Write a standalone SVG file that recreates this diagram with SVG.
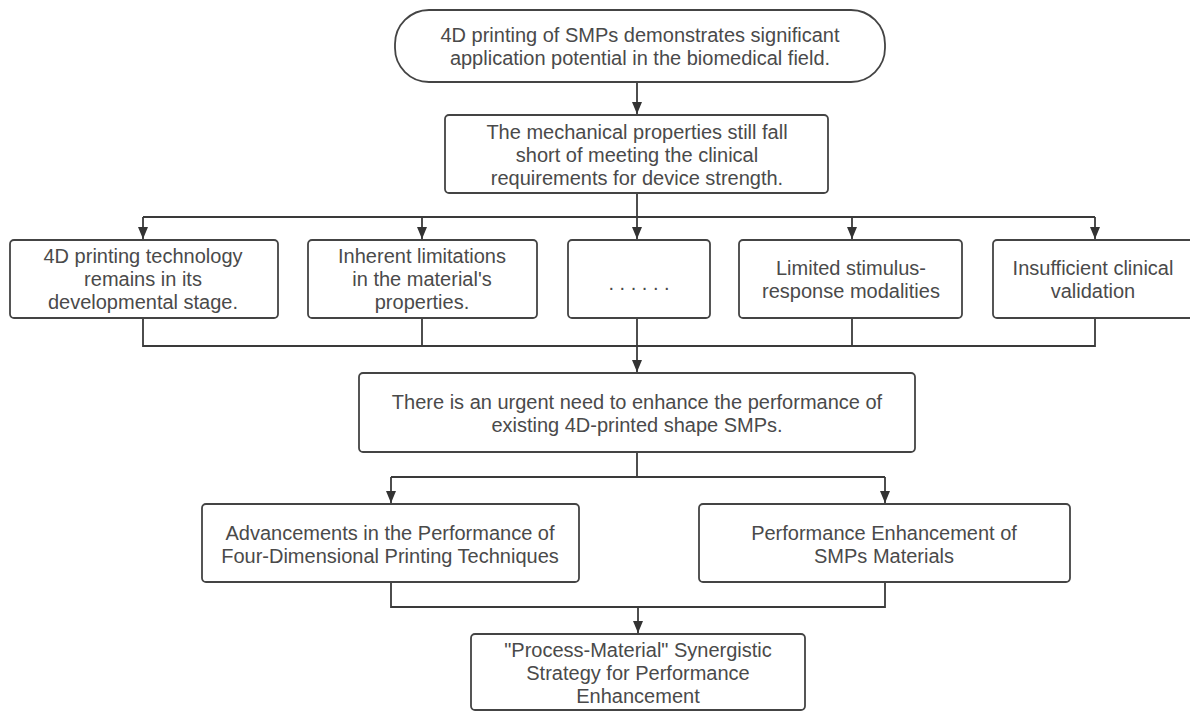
<svg xmlns="http://www.w3.org/2000/svg" width="1190" height="711" viewBox="0 0 1190 711">
<style>
.box{fill:#fff;stroke:#444;stroke-width:1.8}
.t{font-family:"Liberation Sans",Arial,sans-serif;font-size:20px;fill:#4a4a4a;text-anchor:middle}
.c{fill:none;stroke:#3a3a3a;stroke-width:1.8}
</style>
<defs>
<marker id="ah" viewBox="0 0 12 10" refX="12" refY="5" markerWidth="12" markerHeight="10" markerUnits="userSpaceOnUse" orient="auto">
<path d="M0,0 L12,5 L0,10 z" fill="#333"/>
</marker>
</defs>
<rect width="1190" height="711" fill="#fff"/>
<g id="connectors">
<path class="c" d="M637,82 V114" marker-end="url(#ah)"/>
<path class="c" d="M637,193 V239" marker-end="url(#ah)"/>
<path class="c" d="M143,217 H1095"/>
<path class="c" d="M143,217 V239" marker-end="url(#ah)"/>
<path class="c" d="M422,217 V239" marker-end="url(#ah)"/>
<path class="c" d="M852,217 V239" marker-end="url(#ah)"/>
<path class="c" d="M1095,217 V239" marker-end="url(#ah)"/>
<path class="c" d="M143,318 V346 H1095 V318"/>
<path class="c" d="M422,318 V346"/>
<path class="c" d="M637,318 V372" marker-end="url(#ah)"/>
<path class="c" d="M852,318 V346"/>
<path class="c" d="M637,452 V477"/>
<path class="c" d="M391,477 H885"/>
<path class="c" d="M391,477 V503" marker-end="url(#ah)"/>
<path class="c" d="M885,477 V503" marker-end="url(#ah)"/>
<path class="c" d="M391,582 V607 H885 V582"/>
<path class="c" d="M638,607 V633" marker-end="url(#ah)"/>
</g>
<g id="n1">
<rect class="box" x="395" y="10" width="490" height="72" rx="34"/>
<text class="t" x="640" y="42">4D printing of SMPs demonstrates significant</text>
<text class="t" x="640" y="65">application potential in the biomedical field.</text>
</g>
<g id="n2">
<rect class="box" x="445" y="115" width="383" height="78" rx="4"/>
<text class="t" x="637" y="139">The mechanical properties still fall</text>
<text class="t" x="637" y="162">short of meeting the clinical</text>
<text class="t" x="637" y="185">requirements for device strength.</text>
</g>
<g id="n3">
<rect class="box" x="10" y="240" width="268" height="78" rx="4"/>
<text class="t" x="143" y="263">4D printing technology</text>
<text class="t" x="143" y="286">remains in its</text>
<text class="t" x="143" y="309">developmental stage.</text>
</g>
<g id="n4">
<rect class="box" x="308" y="240" width="229" height="78" rx="4"/>
<text class="t" x="422" y="263">Inherent limitations</text>
<text class="t" x="422" y="286">in the material's</text>
<text class="t" x="422" y="309">properties.</text>
</g>
<g id="n5">
<rect class="box" x="568" y="240" width="142" height="78" rx="4"/>
<text class="t" x="639" y="290">. . . . . .</text>
</g>
<g id="n6">
<rect class="box" x="739" y="240" width="223" height="78" rx="4"/>
<text class="t" x="851" y="275">Limited stimulus-</text>
<text class="t" x="851" y="298">response modalities</text>
</g>
<g id="n7">
<rect class="box" x="993" y="240" width="204" height="78" rx="4"/>
<text class="t" x="1093" y="275">Insufficient clinical</text>
<text class="t" x="1093" y="298">validation</text>
</g>
<g id="n8">
<rect class="box" x="359" y="373" width="556" height="79" rx="4"/>
<text class="t" x="637" y="409">There is an urgent need to enhance the performance of</text>
<text class="t" x="637" y="432">existing 4D-printed shape SMPs.</text>
</g>
<g id="n9">
<rect class="box" x="202" y="504" width="377" height="78" rx="4"/>
<text class="t" x="390" y="540">Advancements in the Performance of</text>
<text class="t" x="390" y="563">Four-Dimensional Printing Techniques</text>
</g>
<g id="n10">
<rect class="box" x="699" y="504" width="371" height="78" rx="4"/>
<text class="t" x="884" y="540">Performance Enhancement of</text>
<text class="t" x="884" y="563">SMPs Materials</text>
</g>
<g id="n11">
<rect class="box" x="471" y="634" width="334" height="76" rx="4"/>
<text class="t" x="638" y="657">"Process-Material" Synergistic</text>
<text class="t" x="638" y="680">Strategy for Performance</text>
<text class="t" x="638" y="703">Enhancement</text>
</g>
</svg>
